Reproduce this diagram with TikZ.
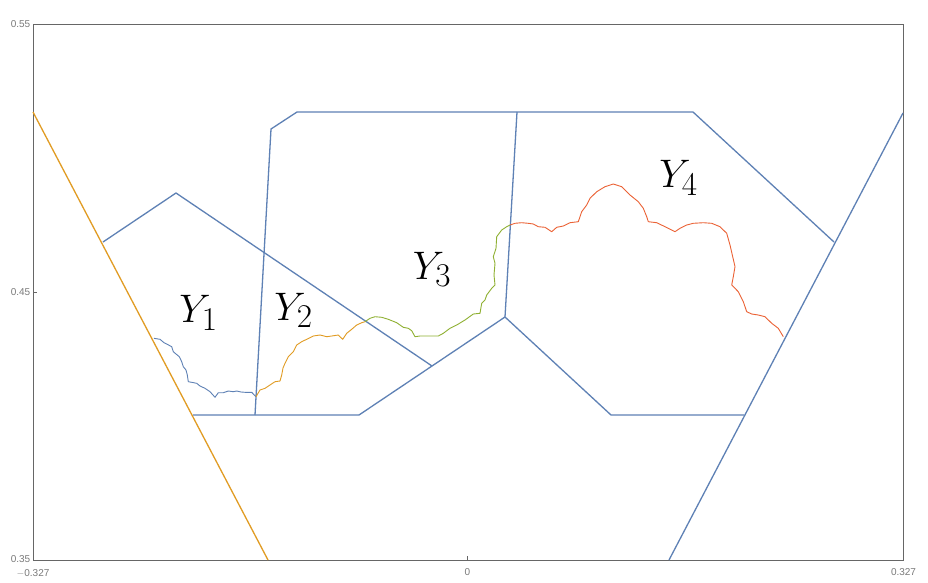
\documentclass[tikz,border=0pt]{standalone}
\usepackage{fontspec}
\newfontfamily\ticksfont{Liberation Sans}
\definecolor{mblue}{HTML}{5E81B5}
\definecolor{morange}{HTML}{E19C24}
\definecolor{mgreen}{HTML}{8FB032}
\definecolor{mred}{HTML}{EB6235}
\definecolor{framegray}{HTML}{666666}
\definecolor{ticktext}{HTML}{7A7A7A}
\begin{document}
\begin{tikzpicture}[x=1pt,y=-1pt,
  region/.style={draw=mblue,line width=1.3pt,line join=round},
  bound/.style={draw=morange,line width=1.3pt},
  curve/.style={line width=0.9pt,line join=round},
  ticklab/.style={text=ticktext,font=\ticksfont\fontsize{10}{12}\selectfont,inner sep=0pt},
  ylab/.style={font=\fontsize{24.88}{30}\selectfont,scale=1.6,inner sep=0pt,anchor=base west}]
\useasboundingbox (0,0) rectangle (928,582);
\fill[white] (0,0) rectangle (928,582);
% frame
\draw[framegray,line width=0.9pt] (33,24) rectangle (903,560);
\draw[framegray,line width=0.9pt] (467,560) -- (467,556);
\draw[framegray,line width=0.9pt] (33,292) -- (37,292);
% tick labels
\node[ticklab,anchor=east] (t055) at (30.5,24) {0.55};
\node[ticklab,anchor=east] (t045) at (30.5,292) {0.45};
\node[ticklab,anchor=east] (t035) at (30.5,559.5) {0.35};
\node[ticklab] (tm327) at (33,573) {$-$0.327};
\node[ticklab] (t0) at (467.5,572) {0};
\node[ticklab] (t327) at (903.5,572) {0.327};
% boundary lines
\draw[bound] (33,112) -- (268,560);
\draw[region] (903,113) -- (669,560);
% region cells
\draw[region] (103,242) -- (176,193) -- (432,366);
\draw[region] (193,415) -- (359,415) -- (505,317) -- (517,112);
\draw[region] (255,415) -- (271,129) -- (297,112) -- (693,112) -- (834,242);
\draw[region] (505,317) -- (611,415) -- (744,415);
% curves
\draw[curve,mblue] (154,338.3) -- (160,339.3) -- (164,342.7) -- (166.7,344) -- (171.7,346.7) -- (173.3,351.7) -- (176,354) -- (179.3,356.7) -- (181.7,361.7) -- (183.3,366.7) -- (186,370) -- (187.3,375) -- (188.3,381.7) -- (191.7,382.3) -- (196.7,383.3) -- (200,386) -- (205,388.3) -- (210,391.7) -- (213,395) -- (215,397.3) -- (218.3,392.7) -- (223.3,392.7) -- (228.3,391) -- (233.3,391.7) -- (236.7,391) -- (241,392) -- (245,392.3) -- (251.7,392.3) -- (256,396.7);
\draw[curve,morange] (256,396.7) -- (260,390) -- (265,388.3) -- (270,385) -- (275,381.7) -- (280,381) -- (281.7,375) -- (283,368) -- (285,363.3) -- (288.3,356.7) -- (293.3,351.7) -- (296.7,345) -- (301.7,341.7) -- (306.7,339.3) -- (313.3,336) -- (320,335) -- (326.7,336.7) -- (331.7,336) -- (338.3,335) -- (342.7,339.3) -- (346.7,333.3) -- (351.7,329.3) -- (356.7,325) -- (361.7,322.7) -- (365,321.7);
\draw[curve,mgreen] (365,321.7) -- (370,318.3) -- (375,316.7) -- (381.7,317.3) -- (388.3,319.3) -- (396.7,322.7) -- (403.3,327.3) -- (408.3,328.3) -- (411.7,330.7) -- (415,336.7) -- (420,336) -- (430,336) -- (438.3,336) -- (443.3,333.3) -- (450,328.3) -- (456.7,325) -- (465,320) -- (473.3,314) -- (480,313.3) -- (481.7,303.3) -- (485,300) -- (486.7,295) -- (491.7,288.3) -- (495,285) -- (494,275) -- (495,263.3) -- (493.3,256.7) -- (496,248.3) -- (496.7,236.7) -- (501.7,230) -- (506.7,226.7) -- (510,225);
\draw[curve,mred] (510,225) -- (515,223.3) -- (521.7,222.7) -- (528.3,223.3) -- (533.3,224) -- (538.3,226.7) -- (545,227.3) -- (551.7,231.7) -- (556.7,227.3) -- (563.3,226) -- (570,222.7) -- (578.3,221.7) -- (581.7,211.7) -- (586.7,205) -- (590,198.3) -- (596.7,191.7) -- (605,186.7) -- (613.3,184) -- (621.7,186.7) -- (630,195) -- (638.3,201.7) -- (643.3,208.3) -- (646.7,216.7) -- (648.3,221.7) -- (656.7,222.7) -- (665,226.7) -- (671.7,230) -- (675,231.7) -- (680,228.3) -- (686.7,225) -- (693.3,223.3) -- (703.3,222.7) -- (711.7,223.3) -- (720,226.7) -- (726.7,233.3) -- (730,245) -- (732.7,256.7) -- (735,266.7) -- (733.3,276.7) -- (731.7,285) -- (738.3,291.7) -- (743.3,301.7) -- (746.7,311.7) -- (751.7,314) -- (758.3,315) -- (765,316.7) -- (771.7,323.3) -- (778.3,328.3) -- (783.3,336.7);
% labels
\node[ylab] (y1) at (179,322.5) {$Y_1$};
\node[ylab] (y2) at (274,320) {$Y_2$};
\node[ylab] (y3) at (412.5,279) {$Y_3$};
\node[ylab] (y4) at (659,187.5) {$Y_4$};
\end{tikzpicture}
\end{document}
